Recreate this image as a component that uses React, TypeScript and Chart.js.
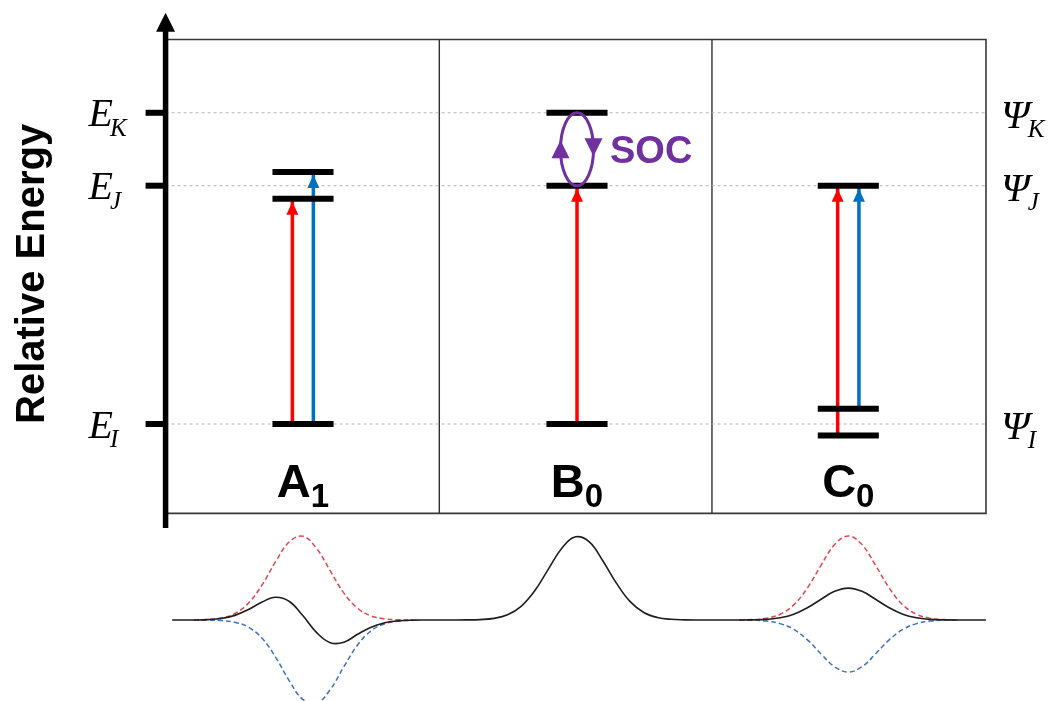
import React, { useEffect, useRef } from 'react';
import { Chart, registerables } from 'chart.js';

Chart.register(...registerables);

// ---------- data ----------
// reference energies (relative units, E_I = 0, E_J = 1)
const refLevels = [0, 1.0, 1.306];
const refNames = ['I', 'J', 'K'];

// panels
const panelCenters = [1.0, 2.005, 3.0];
const panelLetters = ['A', 'B', 'C'];
const panelSubs = ['1', '0', '0'];

// state energies per panel
const levelsA = [0, 0.945, 1.057];
const levelsB = [0, 1.0, 1.306];
const levelsC = [-0.048, 0.064, 1.0];

// transitions
const arrowPanel = [0, 0, 1, 2, 2];
const arrowOffset = [-0.039, 0.038, 0, -0.039, 0.039];
const arrowFrom = [0, 0, 0, -0.048, 0.064];
const arrowTo = [0.945, 1.057, 1.0, 1.0, 1.0];
const arrowPol = ['R', 'L', 'R', 'R', 'L'];

// spectra (bottom)
const specX = [0.52, 0.55, 0.6, 0.65, 0.7, 0.75, 0.8, 0.85, 0.9, 0.95, 1.0, 1.05, 1.1, 1.15, 1.2, 1.25, 1.3, 1.35, 1.4, 1.45,
  1.5, 1.55, 1.6, 1.65, 1.7, 1.75, 1.8, 1.85, 1.9, 1.95, 2.0, 2.05, 2.1, 2.15, 2.2, 2.25, 2.3, 2.35, 2.4, 2.45,
  2.5, 2.55, 2.6, 2.65, 2.7, 2.75, 2.8, 2.85, 2.9, 2.95, 3.0, 3.05, 3.1, 3.15, 3.2, 3.25, 3.3, 3.35, 3.4, 3.45, 3.505];
const specTotal = [0, 0, 0, 0.004, 0.018, 0.055, 0.125, 0.215, 0.27, 0.22, 0.05, -0.15, -0.27, -0.265, -0.17, -0.085, -0.033, -0.01, -0.002, 0,
  0, 0, 0.001, 0.005, 0.019, 0.062, 0.163, 0.348, 0.606, 0.857, 0.99, 0.93, 0.703, 0.436, 0.219, 0.09, 0.03, 0.008, 0.002, 0,
  0, 0, 0, 0.002, 0.008, 0.026, 0.068, 0.145, 0.247, 0.341, 0.38, 0.341, 0.247, 0.145, 0.068, 0.026, 0.008, 0.002, 0, 0, 0];

const specAX = [0.6, 0.65, 0.7, 0.75, 0.8, 0.85, 0.9, 0.95, 1.0, 1.05, 1.1, 1.15, 1.2, 1.25, 1.3, 1.35, 1.4];
const specARed = [0.001, 0.006, 0.024, 0.077, 0.201, 0.418, 0.697, 0.931, 0.996, 0.852, 0.584, 0.32, 0.141, 0.049, 0.014, 0.003, 0.001];
const specABlue = [0, -0.001, -0.007, -0.027, -0.086, -0.218, -0.444, -0.725, -0.947, -0.99, -0.829, -0.555, -0.298, -0.128, -0.044, -0.012, -0.003];

const specCX = [2.6, 2.65, 2.7, 2.75, 2.8, 2.85, 2.9, 2.95, 3.0, 3.05, 3.1, 3.15, 3.2, 3.25, 3.3, 3.35, 3.4];
const specCRed = [0.001, 0.005, 0.021, 0.069, 0.18, 0.381, 0.651, 0.898, 1.0, 0.898, 0.651, 0.381, 0.18, 0.069, 0.021, 0.005, 0.001];
const specCBlue = [-0.001, -0.003, -0.013, -0.043, -0.112, -0.236, -0.404, -0.557, -0.62, -0.557, -0.404, -0.236, -0.112, -0.043, -0.013, -0.003, -0.001];

// ---------- layout (scale bounds, frame) ----------
const X_MIN = -0.1113, X_MAX = 3.7398;
const Y_MIN = -1.1624, Y_MAX = 1.7793;
const S_MIN = -0.9643, S_MAX = 7.381;
const AXIS_X = 0.496;
const FRAME_RIGHT = 3.505;
const FRAME_TOP = 1.6135;
const FRAME_BOTTOM = -0.375;
const AXIS_BOTTOM = -0.436;
const AXIS_TOP = 1.726;
const LABEL_E = -0.306;
const DIVIDERS = [1.5, 2.5];
const LEVEL_HALF = 0.112;

const RED = '#ff0000';
const BLUE = '#0070c0';
const PURPLE = '#7030a0';
const SANS = '"Liberation Sans", Arial, sans-serif';
const SERIF = '"Liberation Serif", "Times New Roman", serif';

const tri = (ctx: CanvasRenderingContext2D, pts: number[][], color: string) => {
  ctx.fillStyle = color;
  ctx.beginPath();
  ctx.moveTo(pts[0][0], pts[0][1]);
  ctx.lineTo(pts[1][0], pts[1][1]);
  ctx.lineTo(pts[2][0], pts[2][1]);
  ctx.closePath();
  ctx.fill();
};

const diagramPlugin = {
  id: 'diagram',
  beforeDatasetsDraw(chart: any) {
    const { ctx, scales } = chart;
    const X = (v: number) => scales.x.getPixelForValue(v);
    const Y = (v: number) => scales.y.getPixelForValue(v);
    ctx.save();
    ctx.strokeStyle = '#383838';
    ctx.lineWidth = 1.6;
    ctx.beginPath();
    ctx.moveTo(X(AXIS_X), Y(FRAME_TOP));
    ctx.lineTo(X(FRAME_RIGHT), Y(FRAME_TOP));
    ctx.lineTo(X(FRAME_RIGHT), Y(FRAME_BOTTOM));
    ctx.lineTo(X(AXIS_X), Y(FRAME_BOTTOM));
    ctx.stroke();
    ctx.lineWidth = 1.4;
    ctx.strokeStyle = '#303030';
    DIVIDERS.forEach((d) => {
      ctx.beginPath();
      ctx.moveTo(X(d), Y(FRAME_TOP));
      ctx.lineTo(X(d), Y(FRAME_BOTTOM));
      ctx.stroke();
    });
    ctx.restore();
  },
  afterDatasetsDraw(chart: any) {
    const { ctx, scales } = chart;
    const X = (v: number) => scales.x.getPixelForValue(v);
    const Y = (v: number) => scales.y.getPixelForValue(v);
    ctx.save();

    // vertical energy axis with arrow
    const ax = X(AXIS_X);
    ctx.strokeStyle = '#000';
    ctx.lineWidth = 5.5;
    ctx.beginPath();
    ctx.moveTo(ax, Y(AXIS_BOTTOM));
    ctx.lineTo(ax, Y(AXIS_TOP) + 15);
    ctx.stroke();
    tri(ctx, [[ax, Y(AXIS_TOP)], [ax - 9.5, Y(AXIS_TOP) + 19], [ax + 9.5, Y(AXIS_TOP) + 19]], '#000');

    // ticks and labels
    refLevels.forEach((e, i) => {
      const y = Y(e);
      ctx.lineWidth = 6;
      ctx.beginPath();
      ctx.moveTo(ax - 20, y);
      ctx.lineTo(ax, y);
      ctx.stroke();
      ctx.fillStyle = '#000';
      ctx.textAlign = 'left';
      ctx.textBaseline = 'alphabetic';
      ctx.font = `italic 40px ${SERIF}`;
      const ex = ax - 77;
      ctx.fillText('E', ex, y + 13.5);
      const w = ctx.measureText('E').width;
      ctx.font = `italic 25px ${SERIF}`;
      ctx.fillText(refNames[i], ex + w - 3, y + 23);
      // Psi labels
      const px = X(FRAME_RIGHT) + 15;
      ctx.font = `italic 41px ${SERIF}`;
      ctx.fillText('\u03A8', px, y + 15);
      const pw = ctx.measureText('\u03A8').width;
      ctx.font = `italic 25px ${SERIF}`;
      ctx.fillText(refNames[i], px + pw - 2, y + 24);
    });

    // arrow heads
    arrowTo.forEach((to, i) => {
      const x = X(panelCenters[arrowPanel[i]] + arrowOffset[i]);
      const tip = Y(to) + 3;
      const c = arrowPol[i] === 'R' ? RED : BLUE;
      tri(ctx, [[x, tip], [x - 6, tip + 13], [x + 6, tip + 13]], c);
    });

    // SOC loop between the two upper B levels
    const cx = X(panelCenters[1]);
    const yT = Y(levelsB[2]);
    const yB = Y(levelsB[1]);
    const cy = (yT + yB) / 2;
    const ry = (yB - yT) / 2;
    const rx = 16.5;
    ctx.strokeStyle = PURPLE;
    ctx.lineWidth = 3;
    ctx.beginPath();
    ctx.ellipse(cx, cy, rx, ry, 0, 0, Math.PI * 2);
    ctx.stroke();
    tri(ctx, [[cx - rx, cy - 9], [cx - rx - 9, cy + 9], [cx - rx + 9, cy + 9]], PURPLE);
    tri(ctx, [[cx + rx, cy + 7], [cx + rx - 9, cy - 11], [cx + rx + 9, cy - 11]], PURPLE);
    ctx.fillStyle = PURPLE;
    ctx.font = `bold 38px ${SANS}`;
    ctx.textAlign = 'left';
    ctx.fillText('SOC', cx + 33, cy + 14);

    // panel labels
    panelLetters.forEach((L, i) => {
      ctx.fillStyle = '#000';
      ctx.font = `bold 47px ${SANS}`;
      const w1 = ctx.measureText(L).width;
      ctx.font = `bold 33px ${SANS}`;
      const w2 = ctx.measureText(panelSubs[i]).width;
      const x0 = X(panelCenters[i]) - (w1 + w2) / 2;
      const yb = Y(LABEL_E);
      ctx.font = `bold 47px ${SANS}`;
      ctx.fillText(L, x0, yb);
      ctx.font = `bold 33px ${SANS}`;
      ctx.fillText(panelSubs[i], x0 + w1, yb + 10);
    });

    // axis title
    ctx.save();
    ctx.translate(ax - 122, Y(0.63));
    ctx.rotate(-Math.PI / 2);
    ctx.textAlign = 'center';
    ctx.fillStyle = '#000';
    ctx.font = `bold 40px ${SANS}`;
    ctx.fillText('Relative Energy', 0, 0);
    ctx.restore();

    ctx.restore();
  },
};

export default function App() {
  const ref = useRef<HTMLCanvasElement | null>(null);
  useEffect(() => {
    if (!ref.current) return;
    const datasets: any[] = [];
    // dotted reference lines
    refLevels.forEach((e) => {
      datasets.push({
        data: [{ x: AXIS_X, y: e }, { x: FRAME_RIGHT, y: e }],
        showLine: true, borderColor: '#b4b4b4', borderWidth: 1, borderDash: [3, 3],
        pointRadius: 0, order: 30, yAxisID: 'y',
      });
    });
    // transition shafts
    arrowFrom.forEach((f, i) => {
      const x = panelCenters[arrowPanel[i]] + arrowOffset[i];
      datasets.push({
        data: [{ x, y: f }, { x, y: arrowTo[i] }],
        showLine: true, borderColor: arrowPol[i] === 'R' ? RED : BLUE, borderWidth: 3.5,
        pointRadius: 0, order: 20, yAxisID: 'y',
      });
    });
    // state levels
    [levelsA, levelsB, levelsC].forEach((lv, p) => {
      lv.forEach((e) => {
        datasets.push({
          data: [{ x: panelCenters[p] - LEVEL_HALF, y: e }, { x: panelCenters[p] + LEVEL_HALF, y: e }],
          showLine: true, borderColor: '#000', borderWidth: 6, borderCapStyle: 'butt',
          pointRadius: 0, order: 10, yAxisID: 'y',
        });
      });
    });
    // spectra
    const mk = (xs: number[], ys: number[], color: string, dash: number[], order: number, w: number) => ({
      data: xs.map((x, i) => ({ x, y: ys[i] })),
      showLine: true, borderColor: color, borderWidth: w, borderDash: dash,
      pointRadius: 0, order, yAxisID: 'ys', tension: 0.4,
    });
    datasets.push(mk(specAX, specARed, '#e0484e', [5, 3], 5, 1.5));
    datasets.push(mk(specAX, specABlue, '#3f72b8', [5, 3], 5, 1.5));
    datasets.push(mk(specCX, specCRed, '#e0484e', [5, 3], 5, 1.5));
    datasets.push(mk(specCX, specCBlue, '#3f72b8', [5, 3], 5, 1.5));
    datasets.push(mk(specX, specTotal, '#1e1e1e', [], 1, 1.6));

    const chart = new Chart(ref.current, {
      type: 'scatter',
      data: { datasets },
      options: {
        responsive: false,
        animation: false,
        events: [],
        layout: { padding: 0 },
        plugins: { legend: { display: false }, tooltip: { enabled: false } },
        scales: {
          x: { type: 'linear', min: X_MIN, max: X_MAX, display: false },
          y: { type: 'linear', min: Y_MIN, max: Y_MAX, display: false },
          ys: { type: 'linear', min: S_MIN, max: S_MAX, display: false },
        },
      } as any,
      plugins: [diagramPlugin as any],
    });
    return () => chart.destroy();
  }, []);
  return (
    <div style={{ position: 'fixed', left: 0, top: 0, width: 1050, height: 701, background: '#fff' }}>
      <canvas ref={ref} width={1050} height={701} style={{ display: 'block' }} />
    </div>
  );
}
